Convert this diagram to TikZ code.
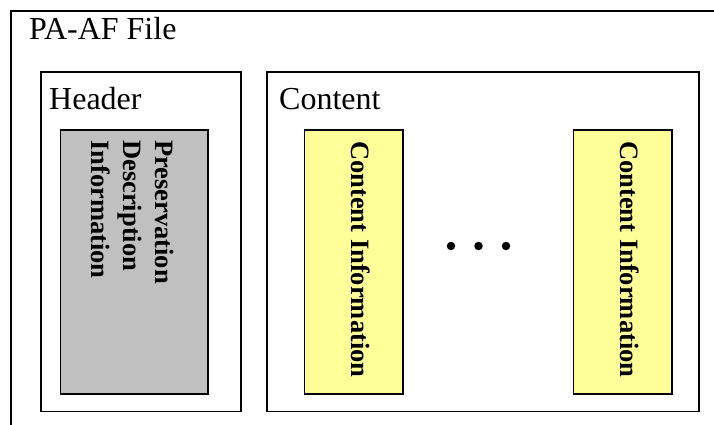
\documentclass[tikz,border=0pt]{standalone}
\usepackage{fontspec}
\setmainfont{Liberation Serif}
\definecolor{pdigrey}{HTML}{C0C0C0}
\definecolor{ciyellow}{HTML}{FFFF99}
\tikzstyle{box}=[draw,line width=1.7pt,inner sep=0,anchor=north west]
\tikzstyle{lbl}=[font=\fontsize{32}{38}\selectfont,inner sep=0,anchor=base west]
\tikzstyle{info}=[font=\fontsize{26.5}{32}\selectfont\bfseries,inner sep=0,rotate=-90,anchor=north west,align=left]
\tikzstyle{dot}=[fill,circle,inner sep=0,minimum size=8.5pt]

\begin{document}
\begin{tikzpicture}[x=1pt,y=1pt]

                        \useasboundingbox (0,0) rectangle (714,-425);
                        \clip (0,0) rectangle (714,-425);

                        \node[box,minimum width=730pt,minimum height=440pt] (file) at (10,-10) {};
                        \node[box,minimum width=200pt,minimum height=339pt] (header) at (40,-71.5) {};
                        \node[box,minimum width=432pt,minimum height=339pt] (content) at (266,-71.5) {};

                        \node[box,fill=pdigrey,minimum width=147.5pt,minimum height=264pt] (pdi) at (59.5,-129) {};
                        \node[box,fill=ciyellow,minimum width=98.5pt,minimum height=264pt] (ci1) at (303.5,-129) {};
                        \node[box,fill=ciyellow,minimum width=98.5pt,minimum height=264pt] (ci2) at (572.5,-129) {};

                        \node[lbl] (filelbl) at (29,-40) {PA-AF File};
                        \node[lbl] (headerlbl) at (49,-110) {Header};
                        \node[lbl] (contentlbl) at (279,-110) {Content};

                        \node[info] (pditxt) at (174,-140) {Preservation\\Description\\Information};
                        \node[info] (ci1txt) at (370.5,-141) {Content Information};
                        \node[info] (ci2txt) at (639.5,-141) {Content Information};

                        \node[dot] (d1) at (451,-246) {};
                        \node[dot] (d2) at (478.5,-246) {};
                        \node[dot] (d3) at (506,-246) {};

\end{tikzpicture}
\end{document}
